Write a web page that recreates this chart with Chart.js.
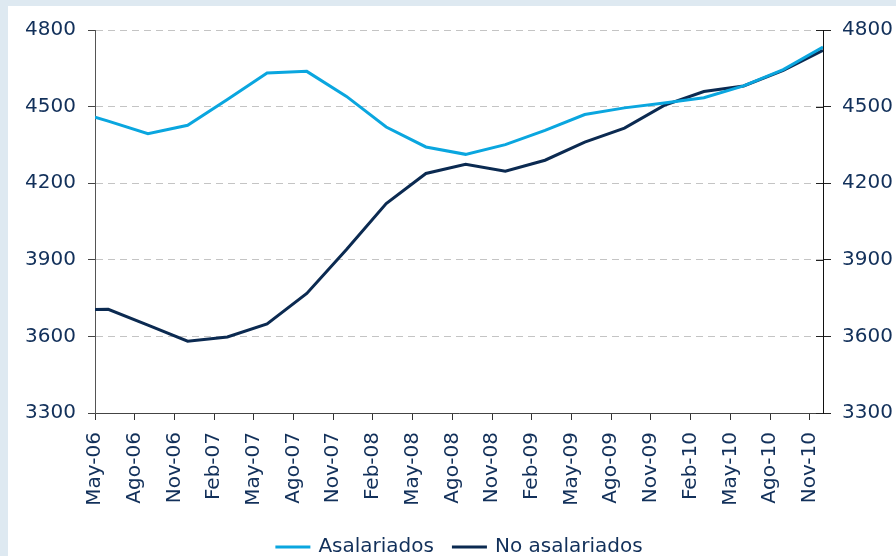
<!DOCTYPE html>
<html><head><meta charset="utf-8">
<script src="https://cdn.jsdelivr.net/npm/chart.js@4/dist/chart.umd.min.js"></script>
<style>
html,body{margin:0;padding:0;background:#dee9f1;overflow:hidden;}
#panel{position:absolute;left:8px;top:6px;width:888px;height:550px;background:#ffffff;}
#wrap{position:absolute;left:0;top:0;width:896px;height:556px;}
</style></head><body>
<div id="panel"></div>
<div id="wrap"><canvas id="c" width="896" height="556"></canvas></div>
<script>
// Quarterly tick labels (every 3 months starting May-06)
const monthLabels = ["May-06","Ago-06","Nov-06","Feb-07","May-07","Ago-07","Nov-07","Feb-08","May-08","Ago-08","Nov-08","Feb-09","May-09","Ago-09","Nov-09","Feb-10","May-10","Ago-10","Nov-10"];
// Month index (0 = May-06) of each data point
const pointMonths = [0,1,4,7,10,13,16,19,22,25,28,31,34,37,40,43,46,49,52,55];
const asalariados   = [4459,4443,4394,4427,4528,4632,4638,4540,4420,4342,4313,4351,4407,4469,4495,4514,4535,4581,4645,4733];
const noAsalariados = [3705,3706,3644,3581,3598,3649,3768,3940,4120,4238,4274,4247,4290,4361,4416,4505,4559,4581,4642,4720];
const yTicks = [3300,3600,3900,4200,4500,4800];
const seriesNames = ["Asalariados","No asalariados"];

const TEXT = '#12305a';
const LIGHT = '#0aa6df';
const DARK = '#0b2a51';
const FONT = "'DejaVu Sans',sans-serif";
const FSIZE = 20;

Chart.defaults.font.family = FONT;
Chart.defaults.font.size = FSIZE;
Chart.defaults.color = TEXT;

const toPts = vals => pointMonths.map((m,i)=>({x:m,y:vals[i]}));

const rightTicksPlugin = {
  id:'rightTicks',
  afterDraw(chart){
    const ctx = chart.ctx, s = chart.scales.y2, a = chart.chartArea;
    ctx.save();
    ctx.strokeStyle = '#222'; ctx.lineWidth = 1;
    s.ticks.forEach(t=>{
      const y = Math.round(s.getPixelForValue(t.value))+0.5;
      ctx.beginPath(); ctx.moveTo(a.right-7,y); ctx.lineTo(a.right,y); ctx.stroke();
    });
    ctx.restore();
  }
};

const legendPlugin = {
  id:'customLegend',
  afterDraw(chart){
    const ctx = chart.ctx, a = chart.chartArea;
    ctx.save();
    ctx.font = FSIZE + 'px ' + FONT;
    const lineW = 35, gap = 8, spacing = 18;
    const items = chart.data.datasets.map(d=>({label:d.label,color:d.borderColor,w:ctx.measureText(d.label).width}));
    const total = items.reduce((s,it)=>s+lineW+gap+it.w,0) + spacing*(items.length-1);
    let x = (a.left+a.right)/2 - total/2;
    const y = 547;
    items.forEach(it=>{
      ctx.strokeStyle = it.color; ctx.lineWidth = 3;
      ctx.beginPath(); ctx.moveTo(x,y); ctx.lineTo(x+lineW,y); ctx.stroke();
      ctx.fillStyle = TEXT; ctx.textBaseline='middle'; ctx.textAlign='left';
      ctx.fillText(it.label, x+lineW+gap, y);
      x += lineW+gap+it.w+spacing;
    });
    ctx.restore();
  }
};

new Chart(document.getElementById('c'), {
  type:'line',
  data:{
    datasets:[
      {label:seriesNames[0], data:toPts(asalariados), borderColor:LIGHT, backgroundColor:LIGHT, borderWidth:3, pointRadius:0, tension:0, yAxisID:'y'},
      {label:seriesNames[1], data:toPts(noAsalariados), borderColor:DARK, backgroundColor:DARK, borderWidth:3, pointRadius:0, tension:0, yAxisID:'y'}
    ]
  },
  options:{
    responsive:false, animation:false, devicePixelRatio:1,
    layout:{padding:{top:30,bottom:0,left:0,right:0}},
    plugins:{legend:{display:false}, tooltip:{enabled:false}},
    scales:{
      x:{
        type:'linear', min:0, max:55,
        afterFit(s){ s.height = 143; },
        grid:{drawOnChartArea:false, drawTicks:true, tickLength:7, color:'#333', tickColor:'#333'},
        border:{display:true, color:'#444', width:1},
        ticks:{stepSize:3, includeBounds:false, autoSkip:false, minRotation:90, maxRotation:90, padding:12,
          callback:(v)=> (v%3===0 && monthLabels[v/3]!==undefined) ? monthLabels[v/3] : ''}
      },
      y:{
        position:'left', min:yTicks[0], max:yTicks[yTicks.length-1],
        afterFit(s){ s.width = 95; },
        afterBuildTicks(s){ s.ticks = yTicks.map(v=>({value:v})); },
        grid:{color:'#c4c4c4', tickColor:'#444', tickLength:7, lineWidth:1},
        border:{display:true, color:'#555', width:1, dash:[7,5]},
        ticks:{padding:12, callback:(v)=>String(v)}
      },
      y2:{
        position:'right', min:yTicks[0], max:yTicks[yTicks.length-1],
        afterFit(s){ s.width = 73; },
        afterBuildTicks(s){ s.ticks = yTicks.map(v=>({value:v})); },
        grid:{drawOnChartArea:false, tickColor:'#222', tickLength:8},
        border:{display:true, color:'#111', width:1},
        ticks:{padding:11, callback:(v)=>String(v)}
      }
    }
  },
  plugins:[rightTicksPlugin, legendPlugin]
});
</script>
</body></html>
